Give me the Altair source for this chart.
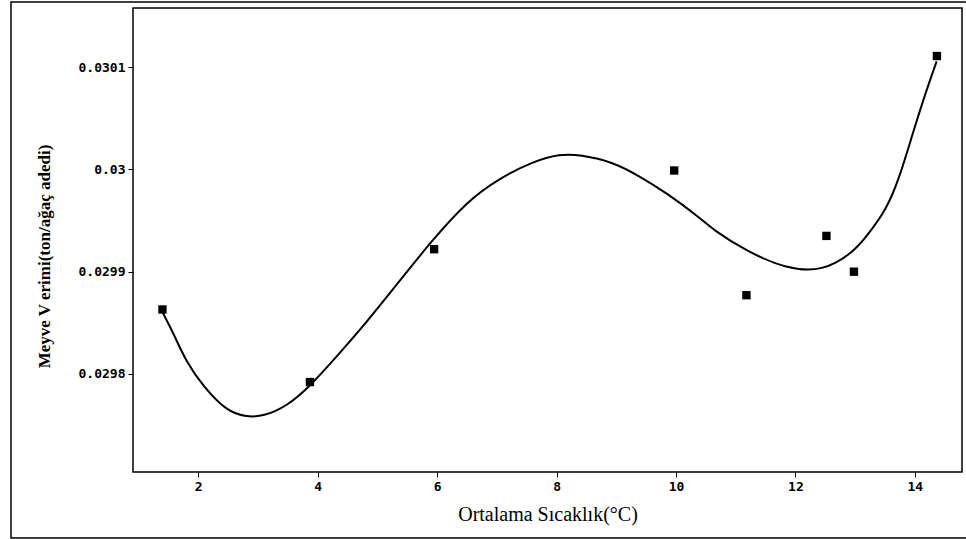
import altair as alt
import pandas as pd

# Observed points (temperature °C, yield)
pt_temp = [1.40, 3.87, 5.95, 9.97, 11.18, 12.52, 12.98, 14.37]
pt_yield = [0.029863, 0.029792, 0.029922, 0.029999, 0.029877, 0.029935, 0.029900, 0.030111]

# Fitted curve
curve_temp = [1.397, 1.582, 1.806, 2.084, 2.476, 2.811, 3.089, 3.480, 3.871, 4.318,
              4.763, 5.322, 5.880, 6.495, 7.052, 7.610, 8.057, 8.392, 8.949, 9.397,
              9.843, 10.373, 10.619, 11.183, 11.853, 12.461, 12.963, 13.192, 13.527,
              13.750, 13.968, 14.197, 14.365]
curve_yield = [0.0298609, 0.0298400, 0.0298107, 0.0297878, 0.0297633, 0.0297578,
               0.0297584, 0.0297682, 0.0297878, 0.0298171, 0.0298465, 0.0298873,
               0.0299281, 0.0299688, 0.0299917, 0.0300079, 0.0300152, 0.0300145,
               0.0300073, 0.0299932, 0.0299770, 0.0299541, 0.0299411, 0.0299199,
               0.0299026, 0.0299003, 0.0299186, 0.0299345, 0.0299607, 0.0299932,
               0.0300360, 0.0300781, 0.0301058]

x_ticks = [2, 4, 6, 8, 10, 12, 14]
y_ticks = [0.0298, 0.0299, 0.03, 0.0301]

x_title = "Ortalama Sıcaklık(°C)"
y_title = "Meyve V erimi(ton/ağaç adedi)"

pts = pd.DataFrame({"t": pt_temp, "v": pt_yield})
crv = pd.DataFrame({"t": curve_temp, "v": curve_yield})

xscale = alt.Scale(domain=[0.907, 14.79], nice=False, zero=False)
yscale = alt.Scale(domain=[0.029704, 0.030158], nice=False, zero=False)

label_font = "DejaVu Sans Mono"

xaxis = alt.Axis(values=x_ticks, format="d", grid=False, domain=False, tickColor="black",
                 tickSize=5, labelFont=label_font, labelFontWeight="bold",
                 labelFontSize=13, labelColor="black", labelPadding=3,
                 title=x_title, titleFont="Liberation Serif", titleFontSize=20,
                 titleFontWeight="normal", titleColor="black", titleY=32,
                 titleBaseline="top")
yaxis = alt.Axis(values=y_ticks, format="~g", grid=False, domain=False,
                 tickColor="black", tickSize=5, labelFont=label_font,
                 labelFontWeight="bold", labelFontSize=13, labelColor="black",
                 labelPadding=3, title=y_title, titleFont="Liberation Serif",
                 titleFontSize=17, titleFontWeight="bold", titleColor="black",
                 titleX=-80, titleY=248)

line = alt.Chart(crv).mark_line(color="black", strokeWidth=2, interpolate="basis").encode(
    x=alt.X("t:Q", scale=xscale, axis=xaxis),
    y=alt.Y("v:Q", scale=yscale, axis=yaxis),
)

points = alt.Chart(pts).mark_point(shape="square", filled=True, color="black",
                                   size=70, opacity=1).encode(
    x=alt.X("t:Q", scale=xscale),
    y=alt.Y("v:Q", scale=yscale),
)

frame = alt.Chart(pd.DataFrame({"a": [0]})).mark_rect(
    fillOpacity=0, stroke="black", strokeWidth=1.5, clip=False
).encode(
    x=alt.value(-122), x2=alt.value(845), y=alt.value(-6), y2=alt.value(530)
)

chart = alt.layer(frame, line, points).properties(
    width=829, height=464,
    autosize=alt.AutoSizeParams(type="none"),
    padding={"left": 133, "top": 8, "right": 4, "bottom": 67},
    background="white",
).configure_view(stroke="black", strokeWidth=1.5)

chart.save("out.html", embed_options={"renderer": "svg", "actions": False})
